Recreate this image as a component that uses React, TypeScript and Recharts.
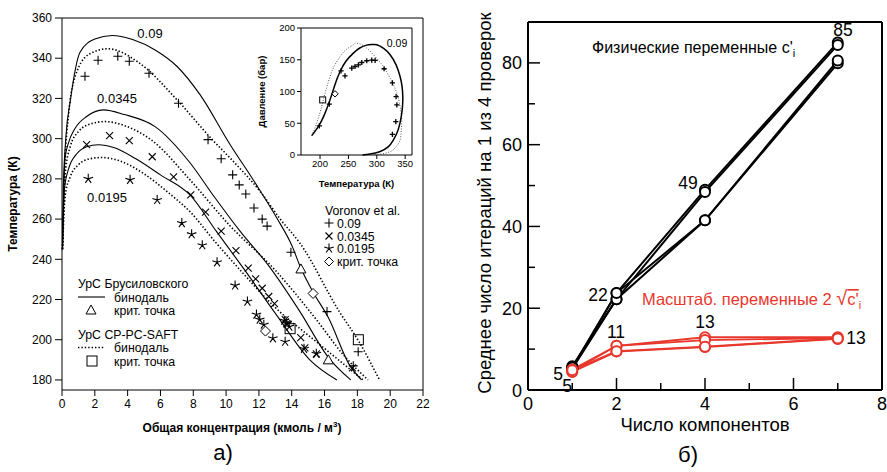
import React from "react";
import { ComposedChart, LineChart, Line, Scatter, XAxis, YAxis, ReferenceLine } from "recharts";

const FONT = "'Liberation Sans', Arial, Helvetica, sans-serif";
const RED = "#e8372c";

// а) бинодали: [концентрация, температура]
const brus009 = [[0.03,245],[0.08,275],[0.25,302],[0.5,318.5],[1.1,343],[2.0,349.5],[3.05,351.3],[4.3,349.3],[5.7,344],[7.0,336],[8.4,322],[10.25,297],[11.85,277],[13.1,260.4],[14.0,247],[14.56,235.5],[15.28,224],[16.23,211],[17.55,187],[18.26,180]];
const saft009 = [[0.03,245],[0.18,287],[0.4,312],[0.7,328],[1.6,341.7],[2.8,344.7],[4.65,338],[7.1,318.5],[9.1,300],[10.45,288.6],[12.05,274],[13.3,260],[14.5,248],[16.9,214],[18.1,199],[19.35,180]];
const brus0345 = [[0.03,245],[0.18,290],[0.4,298],[0.79,305],[1.5,311],[2.52,314.3],[3.8,312],[5.67,306],[7.8,288],[9.2,272],[10.85,254],[12.67,236],[14.5,214],[16.25,191],[17.6,180]];
const saft0345 = [[0.03,245],[0.2,283],[0.5,296],[1.0,303.5],[1.8,307.5],[2.62,308.5],[3.8,306.5],[5.5,299],[7.8,279.5],[10.2,257],[12.98,234.7],[15.5,210],[17.2,192],[18.65,180]];
const brus0195 = [[0.03,245],[0.15,275],[0.4,285],[0.9,292.5],[1.5,296],[2.21,297],[3.2,295.5],[4.5,290],[6.0,282],[7.8,272],[9.4,254],[11.05,235.6],[13.1,212],[15.1,190],[16.75,180]];
const saft0195 = [[0.03,245],[0.2,272],[0.5,281],[1.0,287],[1.7,290],[2.42,290.6],[3.5,289],[5.0,282.5],[6.5,273],[7.8,263.7],[9.3,249],[10.85,234.7],[13.0,216],[15.5,199],[18.35,180]];

// Voronov et al.
const vor009 = [[1.4,331],[2.2,339],[3.4,341],[4.1,338.5],[5.3,332.5],[7.1,317.6],[8.9,299.5],[9.7,290],[10.4,282],[10.8,277],[11.2,272.5],[11.7,265.5],[12.2,260],[12.5,256.5],[13.95,243.5],[16.15,214],[18.05,194],[17.75,187]];
const vor0345 = [[1.5,297],[2.9,301.5],[4.1,299],[5.5,291],[6.8,281],[7.85,272],[8.75,263.5],[9.7,254],[10.6,244.3],[11.35,235.6],[11.8,230.3],[12.2,225.6],[12.6,221.5],[12.95,218],[13.6,210],[13.7,208],[14.55,201],[14.8,196],[15.5,193],[17.7,186]];
const vor0195 = [[1.6,280],[4.15,279.5],[5.8,269.5],[7.3,258],[7.9,252.5],[8.55,247],[9.45,238.5],[10.55,227],[11.3,219],[11.85,212.5],[12.05,210],[12.3,207.5],[12.85,200.7],[13.55,209.5],[13.7,208],[13.85,206.5],[13.6,199],[14.75,195.5],[15.5,193]];
const vorCrit = [[15.3,223],[12.4,204.3]];
const brusCrit = [[14.56,235.2],[16.23,190]];
const saftCrit = [[18.06,200],[13.9,205.5]];

const cTicks = [0,2,4,6,8,10,12,14,16,18,20,22];
const tTicks = [180,200,220,240,260,280,300,320,340,360];

// вставка: [температура, давление]
const insetBrus = [[185.4,30.5],[197,44.7],[207,62],[217.6,86.8],[226,110],[235.3,131.5],[246,148],[258.7,160.5],[270,168.5],[282.3,173],[292,174],[300,173.6],[312,168],[323.5,158],[334,142],[341,123.6],[344.5,108],[345.8,92],[345.5,80],[344,65.8],[340.5,49],[335.3,34.2],[328,22],[320.5,13.1],[305,5],[288,1.5],[275,0]];
const insetSaft = [[185.4,30.5],[190,40],[194,50],[200,67],[205.9,86.8],[211,104],[217.6,123.6],[225,140],[235.3,155],[246,166],[258.7,173.6],[262,176],[270,175],[282.3,168.4],[297,155],[311.6,139.4],[324,120],[335.3,97.4],[341,76],[344,55.3],[343,38],[341,23.7],[333,12],[323.5,5.2],[308,1.5],[294,0]];
const insetVor = [[198.8,45.8],[216.4,80],[237,132.6],[244,124.7],[255.9,136.8],[261.7,139.4],[267.6,142],[273.5,145.7],[282.3,148.4],[291.1,149.5],[297,148.9],[312.9,135.8],[327.5,113.7],[334,92],[335.3,79],[333.5,52.6],[327.5,32.6]];
const insetSaftCrit = [[204.7,86.8]];
const insetVorCrit = [[226.5,96.3]];
const insetTTicks = [200,250,300,350];
const insetPTicks = [0,50,100,150,200];

// б) число итераций
const nComp = [1,2,4,7];
const physA = [5.2,23.7,49.0,85.0];
const physB = [5.2,22.2,48.4,84.4];
const physC = [5.8,22.2,41.5,79.9];
const physD = [5.5,23.7,41.5,80.6];
const scaledA = [5.0,10.8,12.9,12.9];
const scaledB = [4.6,10.8,12.2,12.7];
const scaledC = [4.4,9.4,10.5,12.5];
const scaledD = [4.8,9.5,10.6,12.6];
const nTicks = [0,1,2,3,4,5,6,7,8];
const itTicks = [0,10,20,30,40,50,60,70,80];

const ct = (a: number[][]) => a.map(([c, t]) => ({ c, t }));
const tp = (a: number[][]) => a.map(([T, P]) => ({ T, P }));
const nv = (vals: number[]) => nComp.map((n, i) => ({ n, v: vals[i] }));

const Plus = ({ cx, cy, s = 4.5, w = 1.1 }: any) => (
  <path d={`M${cx - s},${cy}h${2 * s}M${cx},${cy - s}v${2 * s}`} stroke="#000" strokeWidth={w} fill="none" />
);
const Cross = ({ cx, cy }: any) => (
  <path d={`M${cx - 3.5},${cy - 3.5}l7,7M${cx - 3.5},${cy + 3.5}l7,-7`} stroke="#000" strokeWidth={1.1} fill="none" />
);
const Star = ({ cx, cy }: any) => {
  let d = "";
  for (let k = 0; k < 5; k++) {
    const a = (-90 + k * 72) * Math.PI / 180;
    d += `M${cx},${cy}L${cx + 5 * Math.cos(a)},${cy + 5 * Math.sin(a)}`;
  }
  return <path d={d} stroke="#000" strokeWidth={1.1} fill="none" />;
};
const Diamond = ({ cx, cy, s = 5 }: any) => (
  <path d={`M${cx},${cy - s}L${cx + s},${cy}L${cx},${cy + s}L${cx - s},${cy}Z`} stroke="#000" strokeWidth={1} fill="#fff" />
);
const Tri = ({ cx, cy }: any) => (
  <path d={`M${cx},${cy - 5}L${cx + 5},${cy + 4}L${cx - 5},${cy + 4}Z`} stroke="#000" strokeWidth={1} fill="#fff" />
);
const Sq = ({ cx, cy, s = 5 }: any) => (
  <rect x={cx - s} y={cy - s} width={2 * s} height={2 * s} stroke="#000" strokeWidth={1} fill="none" />
);

const XTick = ({ x, y, payload }: any) => {
  const major = payload.value % 2 === 0;
  return (
    <g>
      <line x1={x} x2={x} y1={y} y2={y - (major ? 12 : 7)} stroke="#000" strokeWidth={1.5} />
      {major && <text x={x} y={y + 20} textAnchor="middle" fontSize={18} fontFamily={FONT} fill="#000">{payload.value}</text>}
    </g>
  );
};
const YTick = ({ x, y, payload }: any) => {
  const major = payload.value % 20 === 0;
  return (
    <g>
      <line x1={x} x2={x + (major ? 12 : 7)} y1={y} y2={y} stroke="#000" strokeWidth={1.5} />
      {major && <text x={x - 6} y={y + 6.5} textAnchor="end" fontSize={18} fontFamily={FONT} fill="#000">{payload.value}</text>}
    </g>
  );
};

const tickFont = { fill: "#000", fontSize: 12, fontFamily: FONT };
const insetFont = { fill: "#000", fontSize: 9.5, fontFamily: FONT };
const LEG = 12.3;

export default function App() {
  const solid = { stroke: "#000", strokeWidth: 1.1, dot: false, type: "monotone" as const, isAnimationActive: false };
  const dotted = { ...solid, strokeWidth: 1.6, strokeDasharray: "1.4 2" };
  const phys = { stroke: "#000", strokeWidth: 2, type: "linear" as const, isAnimationActive: false, dot: { r: 5, fill: "#fff", stroke: "#000", strokeWidth: 2 } };
  const scaled = { stroke: RED, strokeWidth: 1.8, type: "linear" as const, isAnimationActive: false, dot: { r: 5, fill: "#fff", stroke: RED, strokeWidth: 2 } };

  return (
    <div style={{ position: "absolute", left: 0, top: 0, width: 887, height: 472, background: "#fff", fontFamily: FONT }}>
      <div style={{ position: "absolute", left: 0, top: 0 }}>
        <ComposedChart width={440} height={472} margin={{ top: 18, right: 17, bottom: 42, left: 0 }}>
          <XAxis type="number" dataKey="c" domain={[0, 22]} ticks={cTicks} interval={0} height={40} tickSize={6} tickMargin={3} stroke="#000" tick={tickFont} />
          <YAxis type="number" dataKey="t" domain={[175, 360]} ticks={tTicks} interval={0} width={62} tickSize={7} tickMargin={3} stroke="#000" tick={tickFont} />
          <ReferenceLine y={360} stroke="#000" />
          <ReferenceLine x={22} stroke="#000" />
          <Line data={ct(brus009)} dataKey="t" {...solid} />
          <Line data={ct(saft009)} dataKey="t" {...dotted} />
          <Line data={ct(brus0345)} dataKey="t" {...solid} />
          <Line data={ct(saft0345)} dataKey="t" {...dotted} />
          <Line data={ct(brus0195)} dataKey="t" {...solid} />
          <Line data={ct(saft0195)} dataKey="t" {...dotted} />
          <Scatter data={ct(vor009)} dataKey="t" isAnimationActive={false} shape={(p: any) => <Plus cx={p.cx} cy={p.cy} />} />
          <Scatter data={ct(vor0345)} dataKey="t" isAnimationActive={false} shape={(p: any) => <Cross cx={p.cx} cy={p.cy} />} />
          <Scatter data={ct(vor0195)} dataKey="t" isAnimationActive={false} shape={(p: any) => <Star cx={p.cx} cy={p.cy} />} />
          <Scatter data={ct(vorCrit)} dataKey="t" isAnimationActive={false} shape={(p: any) => <Diamond cx={p.cx} cy={p.cy} />} />
          <Scatter data={ct(brusCrit)} dataKey="t" isAnimationActive={false} shape={(p: any) => <Tri cx={p.cx} cy={p.cy} />} />
          <Scatter data={ct(saftCrit)} dataKey="t" isAnimationActive={false} shape={(p: any) => <Sq cx={p.cx} cy={p.cy} />} />
        </ComposedChart>
      </div>

      <div style={{ position: "absolute", left: 250, top: 20 }}>
        <ComposedChart width={170} height={175} margin={{ top: 8, right: 8, bottom: 20, left: 0 }}>
          <XAxis type="number" dataKey="T" domain={[166.5, 362]} ticks={insetTTicks} interval={0} height={20} tickSize={4} tickMargin={1} stroke="#000" tick={insetFont} />
          <YAxis type="number" dataKey="P" domain={[0, 200]} ticks={insetPTicks} interval={0} width={51} tickSize={4} tickMargin={2} stroke="#000" tick={insetFont} />
          <ReferenceLine y={200} stroke="#000" />
          <ReferenceLine x={362} stroke="#000" />
          <Line data={tp(insetSaft)} dataKey="P" type="natural" dot={false} stroke="#555" strokeWidth={1} strokeDasharray="1 1.6" isAnimationActive={false} />
          <Line data={tp(insetBrus)} dataKey="P" type="natural" dot={false} stroke="#000" strokeWidth={1.5} isAnimationActive={false} />
          <Scatter data={tp(insetVor)} dataKey="P" isAnimationActive={false} shape={(p: any) => <Plus cx={p.cx} cy={p.cy} s={2.6} w={1.3} />} />
          <Scatter data={tp(insetSaftCrit)} dataKey="P" isAnimationActive={false} shape={(p: any) => <Sq cx={p.cx} cy={p.cy} s={3} />} />
          <Scatter data={tp(insetVorCrit)} dataKey="P" isAnimationActive={false} shape={(p: any) => <Diamond cx={p.cx} cy={p.cy} s={3.2} />} />
        </ComposedChart>
      </div>

      <div style={{ position: "absolute", left: 460, top: 0 }}>
        <LineChart width={427} height={472} margin={{ top: 22, right: 5, bottom: 52, left: 0 }}>
          <XAxis type="number" dataKey="n" domain={[0, 8]} ticks={nTicks} interval={0} height={30} tickSize={0} tickMargin={0} tickLine={false} axisLine={{ stroke: "#000", strokeWidth: 2 }} tick={<XTick />} />
          <YAxis type="number" domain={[0, 90]} ticks={itTicks} interval={0} width={68} tickSize={0} tickMargin={0} tickLine={false} axisLine={{ stroke: "#000", strokeWidth: 2 }} tick={<YTick />} />
          <ReferenceLine y={90} stroke="#000" strokeWidth={2} />
          <ReferenceLine x={8} stroke="#000" strokeWidth={2} />
          <Line data={nv(physA)} dataKey="v" {...phys} />
          <Line data={nv(physB)} dataKey="v" {...phys} />
          <Line data={nv(physC)} dataKey="v" {...phys} />
          <Line data={nv(physD)} dataKey="v" {...phys} />
          <Line data={nv(scaledA)} dataKey="v" {...scaled} />
          <Line data={nv(scaledB)} dataKey="v" {...scaled} />
          <Line data={nv(scaledC)} dataKey="v" {...scaled} />
          <Line data={nv(scaledD)} dataKey="v" {...scaled} />
        </LineChart>
      </div>

      <svg width={887} height={472} style={{ position: "absolute", left: 0, top: 0, pointerEvents: "none" }} fontFamily={FONT}>
        {/* подписи кривых */}
        <text x={150} y={37.5} fontSize={13} textAnchor="middle">0.09</text>
        <text x={117} y={103} fontSize={13} textAnchor="middle">0.0345</text>
        <text x={107} y={202} fontSize={13} textAnchor="middle">0.0195</text>
        <text x={397} y={46.5} fontSize={10.5} textAnchor="middle">0.09</text>

        {/* легенда Voronov */}
        <text x={325} y={215} fontSize={LEG}>Voronov et al.</text>
        <Plus cx={329} cy={223} />
        <text x={337} y={227.5} fontSize={LEG}>0.09</text>
        <Cross cx={329} cy={236} />
        <text x={337} y={240.5} fontSize={LEG}>0.0345</text>
        <Star cx={329} cy={248.5} />
        <text x={337} y={253} fontSize={LEG}>0.0195</text>
        <Diamond cx={329} cy={261.5} s={4.5} />
        <text x={337} y={266} fontSize={LEG}>крит. точка</text>

        {/* легенда УрС */}
        <text x={78} y={288} fontSize={LEG}>УрС Брусиловского</text>
        <line x1={78} x2={105} y1={297} y2={297} stroke="#000" strokeWidth={1.1} />
        <text x={114} y={301.5} fontSize={LEG}>бинодаль</text>
        <Tri cx={91} cy={310} />
        <text x={114} y={314.5} fontSize={LEG}>крит. точка</text>
        <text x={78} y={339} fontSize={LEG}>УрС CP-PC-SAFT</text>
        <line x1={78} x2={105} y1={347.5} y2={347.5} stroke="#000" strokeWidth={1.6} strokeDasharray="1.4 2" />
        <text x={114} y={352} fontSize={LEG}>бинодаль</text>
        <Sq cx={92} cy={361} />
        <text x={114} y={366} fontSize={LEG}>крит. точка</text>

        {/* оси панели а) */}
        <text transform="translate(17,204) rotate(-90)" fontSize={12} fontWeight="bold" textAnchor="middle">Температура (К)</text>
        <text x={242} y={432} fontSize={12} fontWeight="bold" textAnchor="middle">
          Общая концентрация (кмоль / м<tspan fontSize={8} dy={-5}>3</tspan><tspan dy={5}>)</tspan>
        </text>
        <text transform="translate(265,91.5) rotate(-90)" fontSize={9.5} fontWeight="bold" textAnchor="middle">Давление (бар)</text>
        <text x={356.5} y={187} fontSize={9.5} fontWeight="bold" textAnchor="middle">Температура (К)</text>
        <text x={223} y={460} fontSize={22} textAnchor="middle">а)</text>

        {/* панель б) */}
        <text transform="translate(491,203) rotate(-90)" fontSize={18.5} textAnchor="middle">Среднее число итераций на 1 из 4 проверок</text>
        <text x={705} y={430.5} fontSize={18.5} textAnchor="middle">Число компонентов</text>
        <text x={688} y={462} fontSize={22} textAnchor="middle">б)</text>
        <text x={592} y={52.5} fontSize={16}>Физические переменные c'<tspan fontSize={11} dy={4}>i</tspan></text>
        <text x={642} y={305} fontSize={16.5} fill={RED}>
          Масштаб. переменные 2 <tspan fontSize={20}>√</tspan><tspan style={{ textDecoration: "overline" }}>c'</tspan><tspan fontSize={11} dy={4}>i</tspan>
        </text>
        <text x={843} y={35.5} fontSize={17.5} textAnchor="middle">85</text>
        <text x={688} y={189} fontSize={17.5} textAnchor="middle">49</text>
        <text x={598} y={300.5} fontSize={17.5} textAnchor="middle">22</text>
        <text x={558} y={380} fontSize={17.5} textAnchor="middle">5</text>
        <text x={567} y={392} fontSize={17.5} textAnchor="middle">5</text>
        <text x={616} y={338} fontSize={17.5} textAnchor="middle">11</text>
        <text x={705} y={328} fontSize={17.5} textAnchor="middle">13</text>
        <text x={856} y={343.5} fontSize={17.5} textAnchor="middle">13</text>
      </svg>
    </div>
  );
}
